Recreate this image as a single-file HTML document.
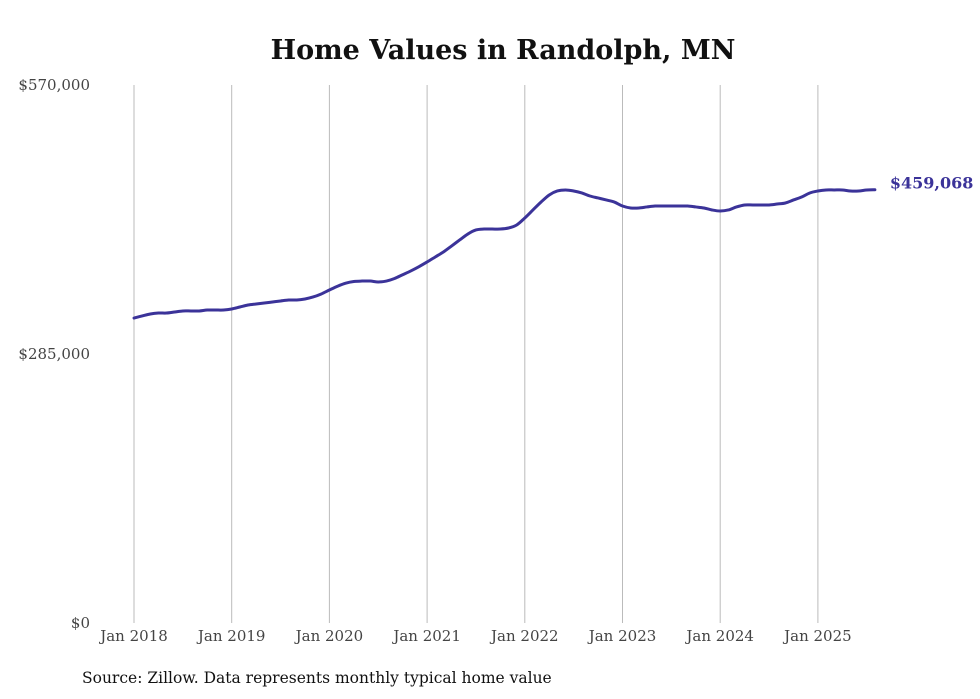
<!DOCTYPE html>
<html><head><meta charset="utf-8"><style>
body{margin:0;background:#fff;}
svg{display:block;}
</style></head><body>
<svg id="chart" width="980" height="699" xmlns="http://www.w3.org/2000/svg">
<text x="503" y="59" text-anchor="middle" font-family="'DejaVu Serif','Liberation Serif',serif" font-weight="bold" font-size="27" fill="#111">Home Values in Randolph, MN</text>
<g id="grid"></g>
<g id="yticks"></g>
<g id="xticks"></g>
<path id="line" fill="none" stroke="#3b3399" stroke-width="3" stroke-linejoin="round" stroke-linecap="round"/>
<text id="endlabel" font-family="'DejaVu Serif','Liberation Serif',serif" font-weight="bold" font-size="16" fill="#3b3399"></text>
<text x="82" y="683" font-family="'DejaVu Serif','Liberation Serif',serif" font-size="15.5" fill="#111">Source: Zillow. Data represents monthly typical home value</text>
</svg>
<script>
const startYear = 2018;
const xTickLabels = ["Jan 2018","Jan 2019","Jan 2020","Jan 2021","Jan 2022","Jan 2023","Jan 2024","Jan 2025"];
const yTickValues = [0, 285000, 570000];
const yTickLabels = ["$0","$285,000","$570,000"];
const values = [
323.1,325.3,327.4,328.4,328.4,329.5,330.6,330.6,330.6,331.6,331.6,331.6,
332.7,334.8,336.9,338.0,339.0,340.1,341.2,342.2,342.2,343.3,345.4,348.6,
352.8,356.8,360.0,361.8,362.3,362.3,361.3,362.3,365.0,369.0,373.0,377.5,
382.5,387.8,393.1,399.4,405.8,412.1,416.4,417.4,417.4,417.4,418.5,421.7,
429.1,437.6,446.0,453.5,457.7,458.8,457.7,455.6,452.4,450.3,448.2,446.0,
441.8,439.7,439.7,440.8,441.8,441.8,441.8,441.8,441.8,440.8,439.7,437.6,
436.5,437.6,440.8,442.9,442.9,442.9,442.9,443.9,445.0,448.2,451.3,455.6,
457.7,458.8,458.8,458.8,457.7,457.7,458.8,459.068
];
const NS="http://www.w3.org/2000/svg";
const x0=134, pxPerYear=97.7, yBase=623, yTop=85, yMax=570000;
const xs = m => x0 + m*pxPerYear/12;
const ys = v => yBase - v/yMax*(yBase-yTop);
const font="'DejaVu Serif','Liberation Serif',serif";
const grid=document.getElementById('grid'), yt=document.getElementById('yticks'), xt=document.getElementById('xticks');
xTickLabels.forEach((lab,i)=>{
  const x=xs(i*12);
  const l=document.createElementNS(NS,'line');
  l.setAttribute('x1',x);l.setAttribute('x2',x);l.setAttribute('y1',yTop);l.setAttribute('y2',yBase);
  l.setAttribute('stroke','#bbb');l.setAttribute('stroke-width','1');
  
  
  grid.appendChild(l);
  const t=document.createElementNS(NS,'text');
  t.setAttribute('x',x);t.setAttribute('y',641);t.setAttribute('text-anchor','middle');
  t.setAttribute('font-family',font);t.setAttribute('font-size','15');t.setAttribute('fill','#444');
  t.textContent=lab;
  
  
  xt.appendChild(t);
});
yTickValues.forEach((v,i)=>{
  const t=document.createElementNS(NS,'text');
  t.setAttribute('x',90);t.setAttribute('y',ys(v)+5);t.setAttribute('text-anchor','end');
  t.setAttribute('font-family',font);t.setAttribute('font-size','15');t.setAttribute('fill','#444');
  t.textContent=yTickLabels[i];
  
  
  yt.appendChild(t);
});
const pts=values.map((v,i)=>[xs(i),ys(v*1000)]);
let d=`M${pts[0][0]},${pts[0][1]}`;
for(let i=0;i<pts.length-1;i++){
  const p0=pts[i-1]||pts[i],p1=pts[i],p2=pts[i+1],p3=pts[i+2]||p2;
  d+=` C${p1[0]+(p2[0]-p0[0])/6},${p1[1]+(p2[1]-p0[1])/6} ${p2[0]-(p3[0]-p1[0])/6},${p2[1]-(p3[1]-p1[1])/6} ${p2[0]},${p2[1]}`;
}
document.getElementById('line').setAttribute('d',d);
const last=pts[pts.length-1];
const el=document.getElementById('endlabel');
el.setAttribute('x',last[0]+15);el.setAttribute('y',last[1]-1);
el.textContent='$'+Math.round(values[values.length-1]*1000).toLocaleString('en-US');
</script>
</body></html>
